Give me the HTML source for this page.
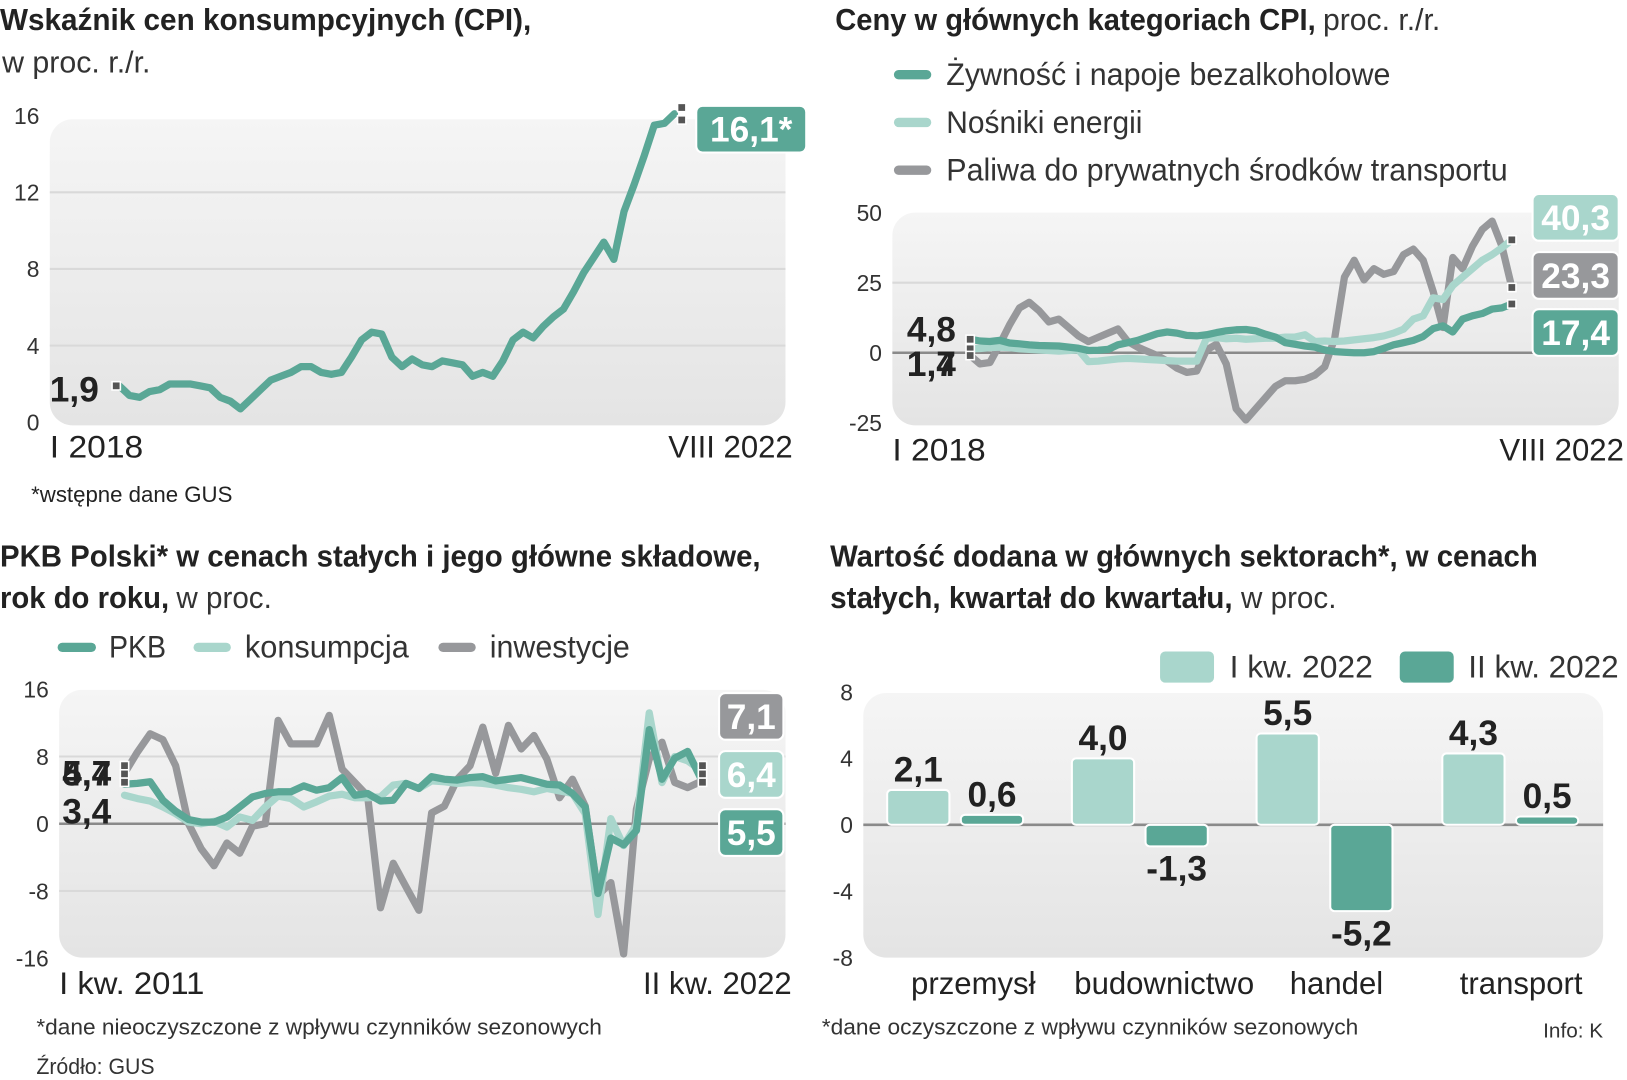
<!DOCTYPE html>
<html><head><meta charset="utf-8"><style>
html,body{margin:0;padding:0;background:#fff;}
svg{display:block;}
text{font-family:"Liberation Sans Narrow","Liberation Sans",sans-serif;fill:#222;}
.b{font-weight:bold;}
.l{fill:#333;}
</style></head><body>
<svg id="root" width="1627" height="1080" viewBox="0 0 1568 1041" preserveAspectRatio="none" xmlns="http://www.w3.org/2000/svg">
<defs>
<linearGradient id="bg" x1="0" y1="0" x2="0" y2="1"><stop offset="0" stop-color="#f5f5f5"/><stop offset="1" stop-color="#e4e4e4"/></linearGradient>
</defs>
<!-- Panel 1 -->
<g>
<text class="b" x="0" y="29" font-size="29" textLength="512" lengthAdjust="spacingAndGlyphs">Wskaźnik cen konsumpcyjnych (CPI),</text>
<text class="l" x="2" y="70" font-size="29" textLength="143" lengthAdjust="spacingAndGlyphs">w proc. r./r.</text>
<rect x="48" y="115" width="709" height="295" rx="22" fill="url(#bg)"/>
<g id="c1"></g>
<text x="48" y="441" font-size="30" textLength="90" lengthAdjust="spacingAndGlyphs">I 2018</text>
<text x="764" y="441" font-size="30" text-anchor="end">VIII 2022</text>
<text x="30" y="484" font-size="21" textLength="194" lengthAdjust="spacingAndGlyphs">*wstępne dane GUS</text>
</g>
<!-- Panel 2 -->
<g>
<text class="b" x="805" y="29" font-size="29" textLength="463" lengthAdjust="spacingAndGlyphs">Ceny w głównych kategoriach CPI,</text>
<text class="l" x="1275" y="29" font-size="29" textLength="113" lengthAdjust="spacingAndGlyphs">proc. r./r.</text>
<line x1="866" y1="72" x2="893" y2="72" stroke="#5aa796" stroke-width="9" stroke-linecap="round"/>
<text class="l" x="912" y="82" font-size="30" textLength="428" lengthAdjust="spacingAndGlyphs">Żywność i napoje bezalkoholowe</text>
<line x1="866" y1="118" x2="893" y2="118" stroke="#a9d6cc" stroke-width="9" stroke-linecap="round"/>
<text class="l" x="912" y="128" font-size="30" textLength="189" lengthAdjust="spacingAndGlyphs">Nośniki energii</text>
<line x1="866" y1="164" x2="893" y2="164" stroke="#97989b" stroke-width="9" stroke-linecap="round"/>
<text class="l" x="912" y="174" font-size="30" textLength="541" lengthAdjust="spacingAndGlyphs">Paliwa do prywatnych środków transportu</text>
<rect x="860" y="205" width="700" height="205" rx="22" fill="url(#bg)"/>
<g id="c2"></g>
<text x="860" y="444" font-size="30" textLength="90" lengthAdjust="spacingAndGlyphs">I 2018</text>
<text x="1565" y="444" font-size="30" text-anchor="end">VIII 2022</text>
</g>
<!-- Panel 3 -->
<g>
<text class="b" x="0" y="546" font-size="29" textLength="733" lengthAdjust="spacingAndGlyphs">PKB Polski* w cenach stałych i jego główne składowe,</text>
<text class="b" x="0" y="586" font-size="29" textLength="163" lengthAdjust="spacingAndGlyphs">rok do roku,</text>
<text class="l" x="170" y="586" font-size="29" textLength="92" lengthAdjust="spacingAndGlyphs">w proc.</text>
<line x1="60" y1="624" x2="88" y2="624" stroke="#5aa796" stroke-width="9" stroke-linecap="round"/>
<text class="l" x="105" y="634" font-size="30" textLength="55" lengthAdjust="spacingAndGlyphs">PKB</text>
<line x1="191" y1="624" x2="218" y2="624" stroke="#a9d6cc" stroke-width="9" stroke-linecap="round"/>
<text class="l" x="236" y="634" font-size="30" textLength="158" lengthAdjust="spacingAndGlyphs">konsumpcja</text>
<line x1="427" y1="624" x2="454" y2="624" stroke="#97989b" stroke-width="9" stroke-linecap="round"/>
<text class="l" x="472" y="634" font-size="30" textLength="135" lengthAdjust="spacingAndGlyphs">inwestycje</text>
<rect x="57" y="665" width="700" height="258" rx="22" fill="url(#bg)"/>
<g id="c3"></g>
<text x="57" y="958" font-size="30" textLength="140" lengthAdjust="spacingAndGlyphs">I kw. 2011</text>
<text x="763" y="958" font-size="30" text-anchor="end">II kw. 2022</text>
<text class="l" x="35" y="997" font-size="21" textLength="545" lengthAdjust="spacingAndGlyphs">*dane nieoczyszczone z wpływu czynników sezonowych</text>
<text class="l" x="35" y="1035" font-size="21" textLength="114" lengthAdjust="spacingAndGlyphs">Źródło: GUS</text>
</g>
<!-- Panel 4 -->
<g>
<text class="b" x="800" y="546" font-size="29" textLength="682" lengthAdjust="spacingAndGlyphs">Wartość dodana w głównych sektorach*, w cenach</text>
<text class="b" x="800" y="586" font-size="29" textLength="388" lengthAdjust="spacingAndGlyphs">stałych, kwartał do kwartału,</text>
<text class="l" x="1196" y="586" font-size="29" textLength="92" lengthAdjust="spacingAndGlyphs">w proc.</text>
<rect x="1118" y="628" width="52" height="30" rx="5" fill="#a9d6cc"/>
<text class="l" x="1185" y="653" font-size="30" textLength="138" lengthAdjust="spacingAndGlyphs">I kw. 2022</text>
<rect x="1349" y="628" width="52" height="30" rx="5" fill="#5aa796"/>
<text class="l" x="1415" y="653" font-size="30" textLength="145" lengthAdjust="spacingAndGlyphs">II kw. 2022</text>
<rect x="832" y="668" width="713" height="255" rx="22" fill="url(#bg)"/>
<g id="c4"></g>
<text class="l" x="792" y="997" font-size="21" textLength="517" lengthAdjust="spacingAndGlyphs">*dane oczyszczone z wpływu czynników sezonowych</text>
<text class="l" x="1545" y="1000" font-size="20" text-anchor="end">Info: K</text>
</g>
</svg>
<script>
// ---- Chart 1 data ----
const cpiValues = [1.9,1.4,1.3,1.6,1.7,2.0,2.0,2.0,1.9,1.8,1.3,1.1,
 0.7,1.2,1.7,2.2,2.4,2.6,2.9,2.9,2.6,2.5,2.6,3.4,
 4.3,4.7,4.6,3.4,2.9,3.3,3.0,2.9,3.2,3.1,3.0,2.4,
 2.6,2.4,3.2,4.3,4.7,4.4,5.0,5.5,5.9,6.8,7.8,8.6,
 9.4,8.5,11.0,12.4,13.9,15.5,15.6,16.1];
const cpiTicks = [0,4,8,12,16];
// ---- Chart 2 data ----
const foodValues = [4.8,4.2,4.0,4.4,3.5,3.2,2.8,2.6,2.5,2.4,2.0,1.6,
 0.8,0.9,1.2,2.8,3.6,4.4,5.6,6.8,7.4,7.0,6.2,6.0,
 6.4,7.2,7.8,8.2,8.3,7.8,6.6,5.6,3.6,3.0,2.4,2.0,
 1.0,0.4,0.2,0.0,0.0,0.4,1.6,2.8,3.6,4.4,5.8,8.6,
 9.6,7.4,12.0,13.2,14.0,15.6,16.0,17.4];
const energyValues = [1.4,1.5,1.8,2.0,1.8,1.4,1.2,1.0,0.8,0.6,0.8,1.0,
 -3.2,-3.0,-2.6,-2.2,-2.0,-2.2,-2.4,-2.6,-2.8,-3.0,-3.0,-3.0,
 5.2,5.4,5.0,5.2,4.8,5.0,5.2,5.2,5.6,5.6,6.4,4.0,
 4.2,4.0,4.2,4.6,5.0,5.4,6.0,7.0,8.4,12.0,13.2,19.6,
 19.0,24.0,27.0,30.0,33.0,35.0,37.5,40.3];
const fuelValues = [-1,-4,-3.5,3,10,16,18,15,11,12,9,6,
 4,5.5,7,8.5,4,2,0.5,-1,-3,-5.5,-7,-6.5,
 1,3,-4,-20,-24,-20,-16,-12,-10,-10,-9.5,-8,
 -5,5,27,33,26,30,28,29,35,37,33,22,
 9,34,30,38,44,47,38,23.3];
const catTicks = [-25,0,25,50];
// ---- Chart 3 data ----
const gdpValues = [4.7,4.8,5.0,2.8,1.5,0.5,0.2,0.2,0.8,2.0,3.2,3.6,
 3.8,3.8,4.5,4.0,4.3,5.5,3.4,3.6,2.7,2.8,4.8,4.2,
 5.6,5.3,5.2,5.5,5.6,5.1,5.3,5.5,5.1,4.7,4.6,3.6,
 2.0,-8.3,-1.7,-2.5,-0.8,11.2,5.3,7.8,8.6,5.5];
const consValues = [3.4,3.0,2.7,2.0,1.2,0.2,0.0,0.3,-0.4,0.8,0.4,2.0,
 3.3,3.0,2.0,2.6,3.3,3.5,3.1,3.1,3.2,4.6,4.8,4.2,
 5.1,5.0,4.8,4.9,4.8,4.6,4.3,4.1,3.8,4.2,3.9,3.6,
 1.2,-10.8,0.6,-2.6,-0.1,13.2,4.9,8.0,7.5,6.4];
const invValues = [6.0,8.5,10.7,10.0,6.9,0.0,-3.0,-5.0,-2.3,-3.5,-0.3,0.0,
 12.3,9.5,9.5,9.5,12.9,6.5,4.9,3.3,-10.0,-4.7,-7.5,-10.3,
 1.3,2.1,5.3,6.9,11.5,6.0,11.7,8.9,10.5,7.7,3.1,5.3,
 2.1,-8.5,-7.0,-15.5,1.7,7.7,9.7,4.9,4.3,5.0];
const gdpTicks = [-16,-8,0,8,16];
// ---- Chart 4 data ----
const sectors = ["przemysł","budownictwo","handel","transport"];
const q1Values = [2.1,4.0,5.5,4.3];
const q2Values = [0.6,-1.3,-5.2,0.5];
const q1Labels = ["2,1","4,0","5,5","4,3"];
const q2Labels = ["0,6","-1,3","-5,2","0,5"];
const vaTicks = [-8,-4,0,4,8];

const NS="http://www.w3.org/2000/svg";
function mk(tag,parent,attrs){const e=document.createElementNS(NS,tag);for(const k in attrs)e.setAttribute(k,attrs[k]);parent.appendChild(e);return e;}
const TEAL="#5aa796",LIGHT="#a9d6cc",GRAY="#97989b";

function linePath(vals,xs,ys){return vals.map((v,i)=>(i?"L":"M")+xs(i).toFixed(1)+","+ys(v).toFixed(1)).join("");}
function marker(g,x,y){const r=mk("rect",g,{x:x-4,y:y-4,width:8,height:8,fill:"#555",stroke:"#fff","stroke-width":1.5});

}
function box(g,x,y,w,h,fill,label,name){const r=mk("rect",g,{x:x,y:y,width:w,height:h,rx:6,fill:fill,stroke:"#fff","stroke-width":2});


const t=mk("text",g,{x:x+w/2,y:y+h/2+12,"text-anchor":"middle","font-size":34,"font-weight":"bold",style:"fill:#fff"});
t.textContent=label;

}
function tickLabel(g,x,y,txt){const t=mk("text",g,{x:x,y:y+8,"text-anchor":"end","font-size":22,style:"fill:#333"});
t.textContent=txt;

}
function grid(g,x1,x2,y,color,w){const l=mk("line",g,{x1:x1,x2:x2,y1:y,y2:y,stroke:color,"stroke-width":w});

}
function series(g,vals,xs,ys,color,name){const p=mk("path",g,{d:linePath(vals,xs,ys),fill:"none",stroke:color,"stroke-width":7,"stroke-linejoin":"round","stroke-linecap":"round"});

}
function bigLabel(g,x,y,txt,anchor,name){const t=mk("text",g,{x:x,y:y,"text-anchor":anchor||"start","font-size":34,"font-weight":"bold"});
t.textContent=txt;

}
const fmt=v=>String(v).replace(".",",");

// Chart 1
(function(){const g=document.getElementById("c1");
const xs=i=>115+i*(650-115)/(cpiValues.length-1), ys=v=>407-v*18.47;
cpiTicks.forEach(t=>{if(t>0&&t<16)grid(g,48,757,ys(t),"#d9d9d9",2);tickLabel(g,38,ys(t),t);});
series(g,cpiValues,xs,ys,TEAL,'cpi-line');
const n=cpiValues.length-1;
marker(g,xs(0)-3,ys(cpiValues[0]));
marker(g,xs(n)+7,ys(cpiValues[n])-6);marker(g,xs(n)+7,ys(cpiValues[n])+6);
bigLabel(g,48,ys(cpiValues[0])+15,fmt(cpiValues[0]),"start",'cpi-start-value');
box(g,671,102,106,45,TEAL,fmt(cpiValues[n])+"*",'cpi-end-value');})();

// Chart 2
(function(){const g=document.getElementById("c2");
const xs=i=>935+i*(1457-935)/(foodValues.length-1), ys=v=>340-v*2.7;
catTicks.forEach(t=>{if(t===25)grid(g,860,1560,ys(t),"#d9d9d9",2);tickLabel(g,850,ys(t),t);});
grid(g,860,1480,ys(0),"#8a8a8a",2.5);
series(g,fuelValues,xs,ys,GRAY,'fuel-line');
series(g,energyValues,xs,ys,LIGHT,'energy-line');
series(g,foodValues,xs,ys,TEAL,'food-line');
const n=foodValues.length-1;
[foodValues,energyValues,fuelValues].forEach(a=>{marker(g,xs(0),ys(a[0]));marker(g,xs(n),ys(a[n]));});
bigLabel(g,874,ys(foodValues[0])+2,fmt(foodValues[0]),"start",'food-start-value');
bigLabel(g,874,ys(energyValues[0])+26,fmt(energyValues[0]),"start",'energy-start-value');
bigLabel(g,874,ys(energyValues[0])+26,"1,7","start",'fuel-start-value');
box(g,1477,187,83,45,LIGHT,fmt(energyValues[n]),'energy-end-value');
box(g,1477,243,83,45,GRAY,fmt(fuelValues[n]),'fuel-end-value');
box(g,1477,298,83,45,TEAL,fmt(foodValues[n]),'food-end-value');})();

// Chart 3
(function(){const g=document.getElementById("c3");
const xs=i=>120+i*(675-120)/(gdpValues.length-1), ys=v=>794-v*8.1;
gdpTicks.forEach(t=>{if(t===8||t===-8)grid(g,57,757,ys(t),"#d9d9d9",2);tickLabel(g,47,ys(t),t);});
grid(g,57,757,ys(0),"#8a8a8a",2.5);
series(g,invValues,xs,ys,GRAY,'investment-line');
series(g,consValues,xs,ys,LIGHT,'consumption-line');
series(g,gdpValues,xs,ys,TEAL,'gdp-line');
const n=gdpValues.length-1;
[gdpValues,consValues,invValues].forEach((a,k)=>{marker(g,xs(0),746+(k-1)*8);marker(g,xs(n)+2,746+(k-1)*8);});
bigLabel(g,60,757,fmt(gdpValues[0]),"start",'gdp-start-value');
bigLabel(g,60,757,"5,4","start",'investment-start-value');
bigLabel(g,60,794,fmt(consValues[0]),"start",'consumption-start-value');
box(g,693,668,62,45,GRAY,"7,1",'investment-end-value');
box(g,693,724,62,45,LIGHT,fmt(consValues[n]),'consumption-end-value');
box(g,693,780,62,45,TEAL,fmt(gdpValues[n]),'gdp-end-value');})();

// Chart 4
(function(){const g=document.getElementById("c4");
const ys=v=>795-v*16;
const groupX=[855,1033,1211,1390], bw=60, gap=11;
const labelX=[938,1122,1288,1466];
vaTicks.forEach(t=>tickLabel(g,822,ys(t),t));
grid(g,832,1545,ys(0),"#8a8a8a",2.5);
sectors.forEach((s,i)=>{
 const x1=groupX[i], x2=x1+bw+gap;
 [[q1Values[i],q1Labels[i],x1,LIGHT,'bar-q1-'+i],[q2Values[i],q2Labels[i],x2,TEAL,'bar-q2-'+i]].forEach(([v,lab,x,c,nm])=>{
  const y0=ys(Math.max(v,0)), h=Math.max(Math.abs(v)*16,3);
  const r=mk("rect",g,{x:x,y:y0,width:bw,height:h,rx:4,fill:c,stroke:"#fff","stroke-width":2});
  
  
  const ty=v>=0?y0-8:y0+h+33;
  bigLabel(g,x+bw/2,ty,lab,"middle",nm+'-label');
 });
 const t=mk("text",g,{x:labelX[i],y:958,"text-anchor":"middle","font-size":30});
 t.textContent=s;
 
 
});})();
</script>
</body></html>
